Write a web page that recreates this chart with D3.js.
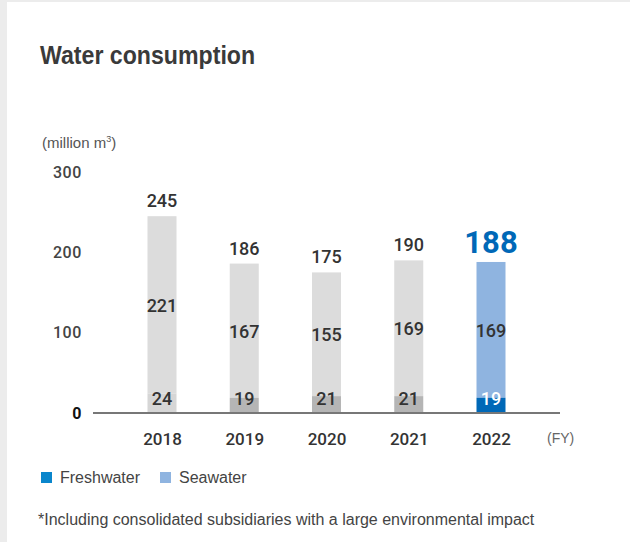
<!DOCTYPE html>
<html>
<head>
<meta charset="utf-8">
<script src="https://cdn.jsdelivr.net/npm/d3@7"></script>
<style>
  html, body { margin: 0; padding: 0; background: #ececec; }
  svg { display: block; }
</style>
</head>
<body>
<script>
// Water consumption by fiscal year (million m³)
const years = ["2018", "2019", "2020", "2021", "2022"];
const freshwater = [24, 19, 21, 21, 19];
const seawater = [221, 167, 155, 169, 169];
const totals = [245, 186, 175, 190, 188];
const yTicks = [0, 100, 200, 300];
const legendLabels = ["Freshwater", "Seawater"];

const W = 630, H = 542;
const svg = d3.select("body").append("svg").attr("width", W).attr("height", H);

// white card
svg.append("rect").attr("x", 7).attr("y", 2).attr("width", W - 7).attr("height", H - 2).attr("fill", "#fff");

const numFont = "Roboto, 'Liberation Sans', sans-serif";
const textFont = "'Liberation Sans', Arial, sans-serif";

// title, set in a condensed cut
svg.append("text").attr("transform", "translate(40,64) scale(0.89,1)")
  .attr("font-family", textFont).attr("font-weight", 700).attr("font-size", 26)
  .attr("fill", "#3a3a3a").text("Water consumption");

const unit = svg.append("text").attr("x", 42).attr("y", 148)
  .attr("font-family", textFont).attr("font-size", 15).attr("fill", "#555");
unit.append("tspan").text("(million m");
unit.append("tspan").attr("font-size", 9).attr("dy", -6).text("3");
unit.append("tspan").attr("dy", 6).text(")");

const y = d3.scaleLinear().domain([0, 300]).range([413, 172]);
const x = d3.scalePoint().domain(years).range([162, 491]);
const barW = 29;
const latest = years[years.length - 1];

// y axis labels
const yAxis = svg.append("g").attr("transform", "translate(82,0)")
  .call(d3.axisLeft(y).tickValues(yTicks).tickSize(0).tickPadding(0));
yAxis.select(".domain").remove();
yAxis.selectAll("text")
  .attr("font-family", numFont).attr("font-size", 16).attr("letter-spacing", 0.6)
  .attr("fill", d => d === 0 ? "#111" : "#444")
  .attr("font-weight", d => d === 0 ? 700 : 500);

const colors = {
  seaPast: "#dcdcdc", freshPast: "#b5b5b5", freshFirst: "#d6d6d6",
  seaNow: "#8fb4e0", freshNow: "#0068b7"
};

const rows = years.map((yr, i) => ({ yr, fresh: freshwater[i], sea: seawater[i], total: totals[i] }));

const bars = svg.append("g").selectAll("g").data(rows).join("g");

// seawater segment sits on top of freshwater; its top follows the stated total
bars.append("rect")
  .attr("x", d => x(d.yr) - barW / 2).attr("width", barW)
  .attr("y", d => y(d.total)).attr("height", d => y(d.fresh) - y(d.total))
  .attr("fill", d => d.yr === latest ? colors.seaNow : colors.seaPast);

bars.append("rect")
  .attr("x", d => x(d.yr) - barW / 2).attr("width", barW)
  .attr("y", d => y(d.fresh)).attr("height", d => y(0) - y(d.fresh))
  .attr("fill", (d, i) => d.yr === latest ? colors.freshNow : (i === 0 ? colors.freshFirst : colors.freshPast));

// baseline
svg.append("line").attr("x1", 93).attr("x2", 560).attr("y1", y(0)).attr("y2", y(0))
  .attr("stroke", "#777").attr("stroke-width", 2);

// value labels
bars.append("text")
  .attr("x", d => x(d.yr)).attr("y", d => (y(d.total) + y(d.fresh)) / 2 + 7)
  .attr("text-anchor", "middle").attr("font-family", numFont).attr("font-weight", 500)
  .attr("font-size", 18).attr("fill", "#333").text(d => d.sea);

bars.append("text")
  .attr("x", d => x(d.yr)).attr("y", 405)
  .attr("text-anchor", "middle").attr("font-family", numFont).attr("font-weight", 500)
  .attr("font-size", 18).attr("fill", d => d.yr === latest ? "#fff" : "#333").text(d => d.fresh);

bars.append("text")
  .attr("x", d => x(d.yr)).attr("y", d => y(d.total) - 9)
  .attr("text-anchor", "middle").attr("font-family", numFont)
  .attr("font-weight", d => d.yr === latest ? 700 : 500)
  .attr("font-size", d => d.yr === latest ? 31 : 18)
  .attr("fill", d => d.yr === latest ? "#0068b7" : "#333").text(d => d.total);

// x axis labels
const xAxis = svg.append("g").attr("transform", `translate(0,${y(0) + 20})`)
  .call(d3.axisBottom(x).tickSize(0).tickPadding(0));
xAxis.select(".domain").remove();
xAxis.selectAll("text").attr("font-family", numFont).attr("font-size", 17)
  .attr("font-weight", 500).attr("fill", "#333");

svg.append("text").attr("x", 547).attr("y", 443)
  .attr("font-family", textFont).attr("font-size", 14).attr("fill", "#666").text("(FY)");

// legend
const legendColors = ["#0a86cc", colors.seaNow];
const lg = svg.append("g").selectAll("g").data(legendLabels).join("g")
  .attr("transform", (d, i) => `translate(${41 + i * 119},0)`);
lg.append("rect").attr("x", 0).attr("y", 472).attr("width", 11).attr("height", 11)
  .attr("fill", (d, i) => legendColors[i]);
lg.append("text").attr("x", 19).attr("y", 483)
  .attr("font-family", textFont).attr("font-size", 16).attr("fill", "#444").text(d => d);

svg.append("text").attr("x", 38).attr("y", 525)
  .attr("font-family", textFont).attr("font-size", 16).attr("fill", "#444")
  .text("*Including consolidated subsidiaries with a large environmental impact");
</script>
</body>
</html>
